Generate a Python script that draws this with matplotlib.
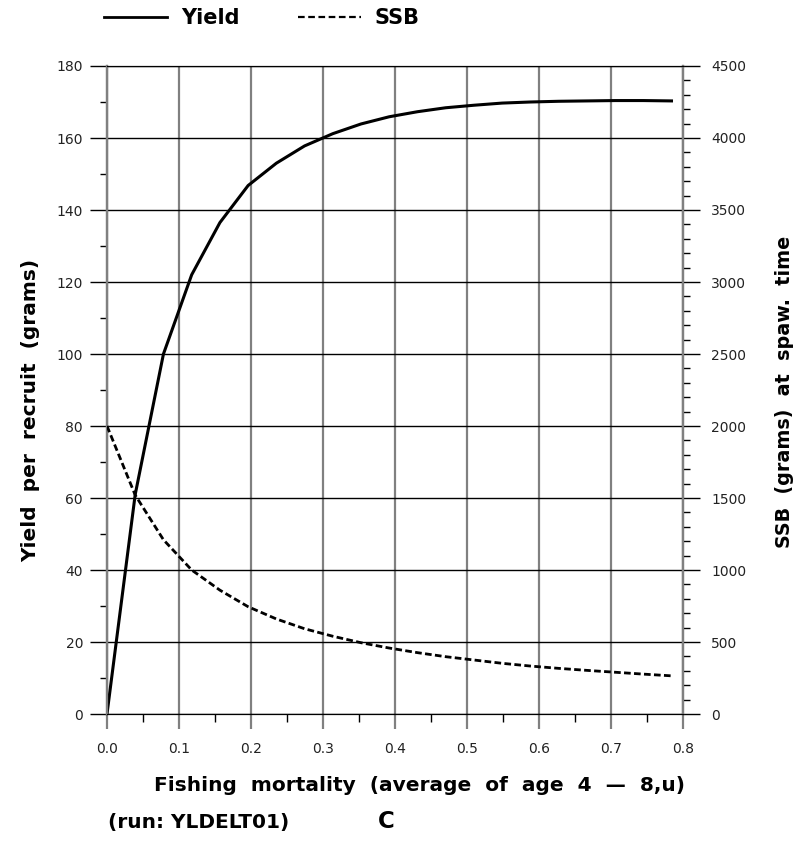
import matplotlib
matplotlib.use("Agg")
import matplotlib.pyplot as plt
from matplotlib.ticker import MultipleLocator
from matplotlib.lines import Line2D

# ---- data ----
fbar = [0.0, 0.0392, 0.0784, 0.1176, 0.1568, 0.196, 0.2352, 0.2744, 0.3136,
        0.3528, 0.392, 0.4312, 0.4704, 0.5096, 0.5488, 0.588, 0.6272, 0.6664,
        0.7056, 0.7448, 0.784]
yield_per_recruit = [0, 61, 100, 122, 136.5, 146.8, 153, 157.8, 161.2, 163.9,
                     165.9, 167.3, 168.4, 169.1, 169.7, 170.0, 170.2, 170.3,
                     170.4, 170.4, 170.3]
ssb = [2000, 1520, 1210, 1000, 860, 745, 660, 592, 540, 495, 458, 426, 398,
       375, 352, 333, 317, 303, 290, 277, 265]

x_label = "Fishing  mortality  (average  of  age  4  \u2014  8,u)"
y_label = "Yield  per  recruit  (grams)"
y2_label = "SSB  (grams)  at  spaw.  time"
run_label = "(run: YLDELT01)"
panel_label = "C"
legend_labels = ["Yield", "SSB"]

W, H = 799, 863
fig = plt.figure(figsize=(W / 100, H / 100), dpi=100)
ax = fig.add_axes([107 / W, 1 - 714 / H, (683 - 107) / W, (714 - 66) / H])
ax2 = ax.twinx()

TICK_FAMILY = "DejaVu Sans"
TICK_SIZE = 10
BOLD = dict(family="DejaVu Sans", weight="bold")

ax.set_xlim(0, 0.8)
ax.set_ylim(0, 180)
ax2.set_ylim(0, 4500)

ax.xaxis.set_major_locator(MultipleLocator(0.1))
ax.xaxis.set_minor_locator(MultipleLocator(0.05))
ax.yaxis.set_major_locator(MultipleLocator(20))
ax.yaxis.set_minor_locator(MultipleLocator(10))
ax2.yaxis.set_major_locator(MultipleLocator(500))
ax2.yaxis.set_minor_locator(MultipleLocator(100))

ax.grid(axis="y", which="major", color="black", lw=1.0, zorder=0)
ax.grid(axis="x", which="major", color="#808080", lw=1.6, zorder=0)
ax.set_axisbelow(True)

ax.set_xticklabels([f"{v:.1f}" for v in ax.get_xticks()])

ax.tick_params(axis="x", which="major", length=11, width=1.6, color="#808080",
               pad=9, labelsize=TICK_SIZE)
ax.tick_params(axis="x", which="minor", length=5.5, width=1.0, color="black")
ax.tick_params(axis="y", which="major", length=12.2, width=1.0, color="black",
               pad=5, labelsize=TICK_SIZE)
ax.tick_params(axis="y", which="minor", length=5, width=1.0, color="black")
ax2.tick_params(axis="y", which="major", length=12.2, width=1.0, color="black",
                pad=8, labelsize=TICK_SIZE)
ax2.tick_params(axis="y", which="minor", length=5, width=1.0, color="black")
for a in (ax, ax2):
    for lab in a.get_xticklabels() + a.get_yticklabels():
        lab.set_family(TICK_FAMILY)
        lab.set_color("#222222")
    a.spines["left"].set_color("#808080")
    a.spines["left"].set_linewidth(1.6)
    a.spines["right"].set_color("#808080")
    a.spines["right"].set_linewidth(1.6)
    a.spines["top"].set_color("black")
    a.spines["bottom"].set_color("black")

ax.plot(fbar, yield_per_recruit, color="black", lw=2.2, solid_joinstyle="miter", zorder=3)
ax2.plot(fbar, ssb, color="black", lw=2.0, dashes=(2.4, 1.2), zorder=3)

# legend
handles = [Line2D([], [], color="black", lw=2.0),
           Line2D([], [], color="black", lw=1.6, dashes=(3.0, 1.6))]
fig.legend(handles, legend_labels, loc="center left",
           bbox_to_anchor=(85 / W, 1 - 18 / H), ncol=2, frameon=False,
           handlelength=3.03, handletextpad=0.67, columnspacing=2.8,
           prop=dict(size=15, **BOLD))

fig.text(419 / W, 1 - 785 / H, x_label, ha="center", va="center", size=14.5, **BOLD)
fig.text(31 / W, 1 - 410 / H, y_label, ha="center", va="center", rotation=90,
         size=14.5, **BOLD)
fig.text(785 / W, 1 - 392 / H, y2_label, ha="center", va="center", rotation=90,
         size=13.8, **BOLD)
fig.text(108 / W, 1 - 822 / H, run_label, ha="left", va="center", size=14.5, **BOLD)
fig.text(386 / W, 1 - 821 / H, panel_label, ha="center", va="center", size=16.5, **BOLD)

fig.savefig("out.png", dpi=100)
